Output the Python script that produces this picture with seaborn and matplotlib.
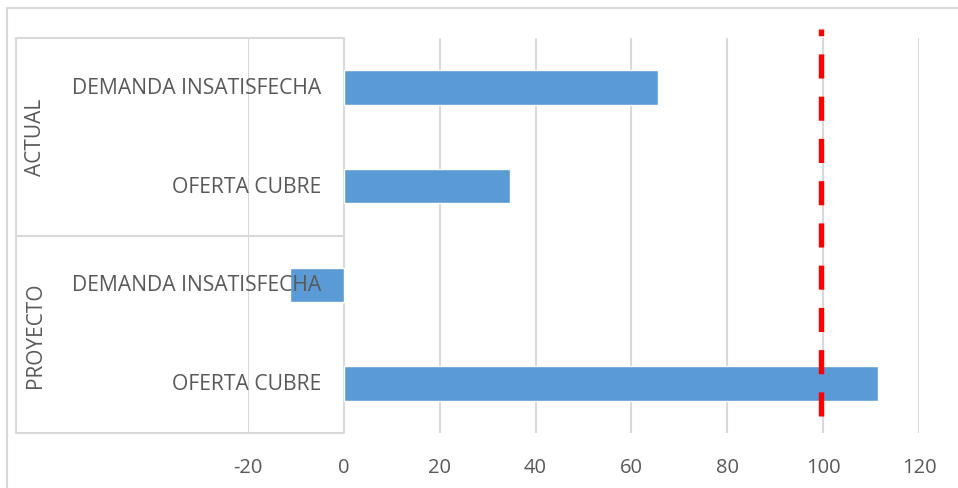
import pandas as pd
import matplotlib
matplotlib.use('Agg')
import matplotlib.pyplot as plt
import matplotlib.transforms as mtransforms
import seaborn as sns

# Data
groups = ['ACTUAL', 'ACTUAL', 'PROYECTO', 'PROYECTO']
items = ['DEMANDA INSATISFECHA', 'OFERTA CUBRE', 'DEMANDA INSATISFECHA', 'OFERTA CUBRE']
values = [65.5, 34.6, -11.3, 111.5]
group_names = ['ACTUAL', 'PROYECTO']
target = 99.5
xticks = [-20, 0, 20, 40, 60, 80, 100, 120]

df = pd.DataFrame({'group': groups, 'item': items, 'value': values})
df['key'] = df['group'] + '|' + df['item']

sns.set_theme(style='white')
plt.rcParams['font.family'] = ['Open Sans', 'DejaVu Sans']
text_color = '#595959'
grid_color = '#d9d9d9'

fig = plt.figure(figsize=(9.58, 4.89), dpi=100)
W, H = 958, 489
ax = fig.add_axes([248 / W, 1 - 434 / H, (919 - 248) / W, (434 - 39) / H])

sns.barplot(data=df, y='key', x='value', orient='h', color='#5B9BD5',
            width=0.35, saturation=1, ax=ax, zorder=2)

ax.set_xlim(-20, 120)
ax.set_ylim(len(df) - 0.5, -0.5)
ax.set_xticks(xticks)
ax.set_xticklabels([str(t) for t in xticks], fontsize=14.5, color=text_color)
ax.tick_params(axis='x', length=0, pad=17)
ax.set_yticks([])
ax.set_xlabel('')
ax.set_ylabel('')
for s in ax.spines.values():
    s.set_visible(False)

# vertical gridlines and category axis at 0
for t in xticks:
    ax.axvline(t, color=grid_color, lw=1.5, zorder=1)

# target line (drawn bottom-up so the dash pattern matches)
ax.plot([target, target], [3.33, -0.59], color='#FF0000', lw=3.9,
        dashes=(4.45, 3.35), clip_on=False, zorder=3)

# category labels right aligned left of the 0 axis
lab_trans = mtransforms.offset_copy(ax.transData, fig=fig, x=-23, y=0, units='dots')
for i, name in enumerate(df['item']):
    ax.text(0, i, name, transform=lab_trans, ha='right', va='center',
            fontsize=15.2, color=text_color, zorder=4)

# group boxes on the left
x_left = (15 - 343.3) / 4.8
for yb in [-0.5, 1.5, 3.5]:
    ax.plot([x_left, 0], [yb, yb], color=grid_color, lw=1.5, clip_on=False, zorder=1)
ax.plot([x_left, x_left], [-0.5, 3.5], color=grid_color, lw=1.5, clip_on=False, zorder=1)

x_grp = (34 - 343.3) / 4.8
for gi, g in enumerate(group_names):
    ax.text(x_grp, gi * 2 + 0.5, g, rotation=90, ha='center', va='center',
            fontsize=15, color=text_color, clip_on=False)

# outer chart border (top and left)
fig.add_artist(plt.Line2D([7 / W, 1], [1 - 9 / H, 1 - 9 / H], color=grid_color, lw=1.5))
fig.add_artist(plt.Line2D([7 / W, 7 / W], [0, 1 - 9 / H], color=grid_color, lw=1.5))

fig.savefig('out.png', dpi=100, facecolor='white')
